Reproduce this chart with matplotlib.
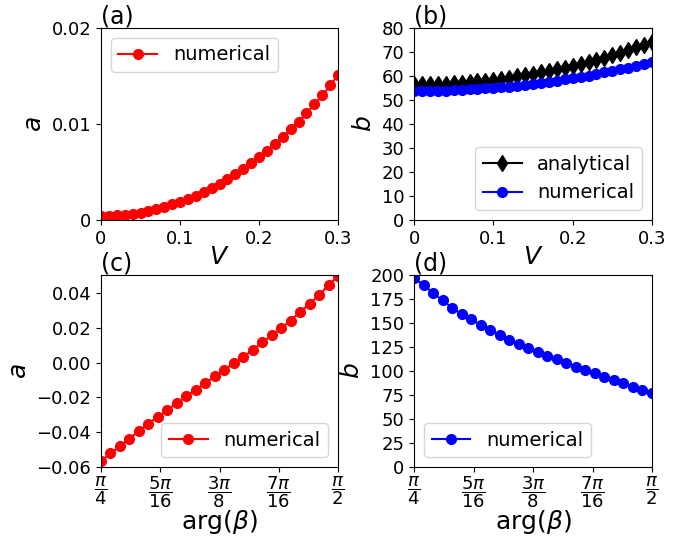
import numpy as np
import matplotlib
matplotlib.use("Agg")
import matplotlib.pyplot as plt

# V grid for the top row
V = [0.00, 0.01, 0.02, 0.03, 0.04, 0.05, 0.06, 0.07, 0.08, 0.09, 0.10,
     0.11, 0.12, 0.13, 0.14, 0.15, 0.16, 0.17, 0.18, 0.19, 0.20,
     0.21, 0.22, 0.23, 0.24, 0.25, 0.26, 0.27, 0.28, 0.29, 0.30]

a_num_V = [0.00042, 0.00042, 0.00049, 0.00052, 0.00063, 0.00077, 0.00090, 0.00111,
           0.00136, 0.00163, 0.00191, 0.00219, 0.00254, 0.00292, 0.00330, 0.00376,
           0.00424, 0.00480, 0.00532, 0.00591, 0.00661, 0.00723, 0.00793, 0.00866,
           0.00946, 0.01026, 0.01113, 0.01207, 0.01297, 0.01402, 0.01510]

b_ana_V = [56.5, 56.5, 56.6, 56.7, 56.8, 57.0, 57.2, 57.5, 57.8, 58.1, 58.5,
           58.9, 59.3, 59.8, 60.3, 60.9, 61.5, 62.1, 62.8, 63.5, 64.3,
           65.1, 65.9, 66.8, 67.7, 68.7, 69.7, 70.8, 71.9, 73.0, 74.2]

b_num_V = [53.7, 53.7, 53.8, 53.8, 53.9, 54.0, 54.2, 54.4, 54.6, 54.8, 55.1,
           55.3, 55.6, 56.0, 56.3, 56.7, 57.1, 57.6, 58.1, 58.6, 59.1,
           59.7, 60.2, 60.8, 61.5, 62.1, 62.8, 63.5, 64.3, 65.0, 65.9]

# arg(beta) grid for the bottom row, pi/4 .. pi/2 in 25 steps
n_beta = 26
beta = np.linspace(np.pi / 4, np.pi / 2, n_beta)

a_num_beta = [-0.0568, -0.0522, -0.0480, -0.0436, -0.0392, -0.0350, -0.0310, -0.0272,
              -0.0232, -0.0193, -0.0155, -0.0117, -0.0078, -0.0040, -0.0004, 0.0034,
              0.0073, 0.0117, 0.0157, 0.0199, 0.0243, 0.0293, 0.0339, 0.0390,
              0.0446, 0.0498]

b_num_beta = [197.2, 189.5, 181.2, 173.6, 165.9, 159.1, 153.7, 148.2, 142.6, 137.4,
              132.5, 128.3, 123.8, 119.6, 115.5, 112.0, 108.2, 104.3, 100.9, 97.7,
              93.9, 90.8, 87.0, 83.5, 80.7, 76.9]

beta_ticks = [np.pi / 4, 5 * np.pi / 16, 3 * np.pi / 8, 7 * np.pi / 16, np.pi / 2]
beta_labels = [r'$\dfrac{\pi}{4}$', r'$\dfrac{5\pi}{16}$', r'$\dfrac{3\pi}{8}$',
               r'$\dfrac{7\pi}{16}$', r'$\dfrac{\pi}{2}$']

tick_fs = 13
label_fs = 18
legend_fs = 14
ms = 7

fig = plt.figure(figsize=(6.98, 5.37), dpi=100)
W, H = 698, 537

def place(x0, y0, x1, y1):
    return fig.add_axes([x0 / W, 1 - y1 / H, (x1 - x0) / W, (y1 - y0) / H])

ax_a = place(101, 28, 338, 220)
ax_b = place(414, 28, 652, 220)
ax_c = place(101, 275, 338, 467)
ax_d = place(414, 275, 652, 467)

# (a)
ax_a.plot(V, a_num_V, 'o-', color='red', markersize=ms, label='numerical')
ax_a.set_xlim(0, 0.3)
ax_a.set_ylim(0, 0.02)
ax_a.set_xticks([0, 0.1, 0.2, 0.3])
ax_a.set_xticklabels(['0', '0.1', '0.2', '0.3'])
ax_a.set_yticks([0, 0.01, 0.02])
ax_a.set_yticklabels(['0', '0.01', '0.02'])
ax_a.set_xlabel(r'$V$', fontsize=label_fs, labelpad=-2)
ax_a.set_ylabel(r'$a$', fontsize=label_fs)
ax_a.legend(loc='upper left', fontsize=legend_fs)

# (b)
ax_b.plot(V, b_ana_V, 'd-', color='black', markersize=ms + 1, label='analytical')
ax_b.plot(V, b_num_V, 'o-', color='blue', markersize=ms, label='numerical')
ax_b.set_xlim(0, 0.3)
ax_b.set_ylim(0, 80)
ax_b.set_xticks([0, 0.1, 0.2, 0.3])
ax_b.set_xticklabels(['0', '0.1', '0.2', '0.3'])
ax_b.set_yticks(range(0, 81, 10))
ax_b.set_xlabel(r'$V$', fontsize=label_fs, labelpad=-2)
ax_b.set_ylabel(r'$b$', fontsize=label_fs)
ax_b.legend(loc='lower right', fontsize=legend_fs)

# (c)
ax_c.plot(beta, a_num_beta, 'o-', color='red', markersize=ms, label='numerical')
ax_c.set_xlim(np.pi / 4, np.pi / 2)
ax_c.set_ylim(-0.06, 0.0505)
ax_c.set_yticks([-0.06, -0.04, -0.02, 0.0, 0.02, 0.04])
ax_c.set_yticklabels(['\u22120.06', '\u22120.04', '\u22120.02', '0.00', '0.02', '0.04'])
ax_c.set_xticks(beta_ticks)
ax_c.set_xticklabels(beta_labels)
ax_c.set_xlabel(r'arg$(\beta)$', fontsize=label_fs, labelpad=-2)
ax_c.set_ylabel(r'$a$', fontsize=label_fs)
ax_c.legend(loc='lower right', fontsize=legend_fs)

# (d)
ax_d.plot(beta, b_num_beta, 'o-', color='blue', markersize=ms, label='numerical')
ax_d.set_xlim(np.pi / 4, np.pi / 2)
ax_d.set_ylim(0, 200)
ax_d.set_yticks(range(0, 201, 25))
ax_d.set_xticks(beta_ticks)
ax_d.set_xticklabels(beta_labels)
ax_d.set_xlabel(r'arg$(\beta)$', fontsize=label_fs, labelpad=-2)
ax_d.set_ylabel(r'$b$', fontsize=label_fs)
ax_d.legend(loc='lower left', fontsize=legend_fs)

for ax, tag in zip([ax_a, ax_b, ax_c, ax_d], ['(a)', '(b)', '(c)', '(d)']):
    ax.tick_params(labelsize=tick_fs)
    ax.text(0.0, 0.995, tag, transform=ax.transAxes, fontsize=17, va='bottom', ha='left')

for ax in [ax_c, ax_d]:
    ax.tick_params(axis='x', pad=2)

fig.savefig('out.png', dpi=100)
